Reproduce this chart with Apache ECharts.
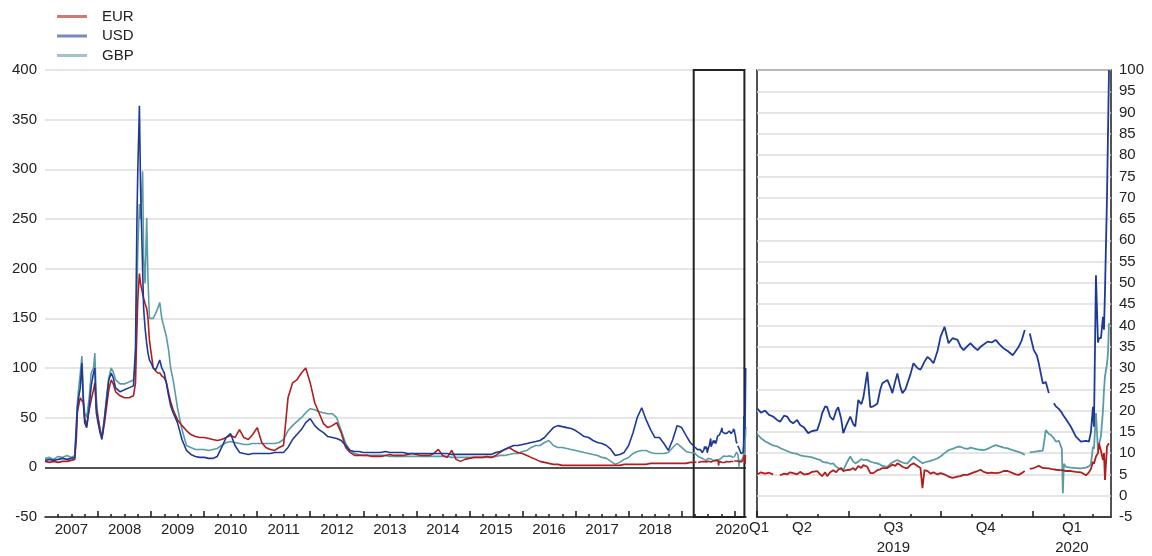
<!DOCTYPE html>
<html>
<head>
<meta charset="utf-8">
<script src="https://cdn.jsdelivr.net/npm/echarts@6/dist/echarts.min.js"></script>
<style>
    html, body { margin: 0; padding: 0; background: #fff; }
    #chart { width: 1152px; height: 556px; }
</style>
</head>
<body>
<div id="chart"></div>
<script>
var seriesNames = ['EUR', 'USD', 'GBP'];
var seriesColors = {EUR: '#b01e1e', USD: '#1f3a96', GBP: '#5a9ca5'};

// 2007 - 2009, denser where the spreads move fast
var crisisDates = [
    '2007-01-01', '2007-02-01', '2007-03-01', '2007-04-01', '2007-05-01', '2007-06-01', '2007-07-01',
    '2007-07-25', '2007-08-05', '2007-08-12', '2007-08-20', '2007-09-01', '2007-09-12', '2007-09-22',
    '2007-10-01', '2007-10-15', '2007-11-01', '2007-11-15', '2007-12-01', '2007-12-10', '2007-12-20',
    '2008-01-01', '2008-01-15', '2008-01-28', '2008-02-15', '2008-03-01', '2008-03-15', '2008-04-01',
    '2008-04-15', '2008-05-01', '2008-06-01', '2008-07-01', '2008-08-01', '2008-09-01', '2008-09-15',
    '2008-09-25', '2008-10-01', '2008-10-12', '2008-10-20', '2008-11-03', '2008-11-10', '2008-11-20',
    '2008-12-01', '2008-12-10', '2008-12-20',
    '2009-01-01', '2009-01-15', '2009-02-01', '2009-02-15', '2009-03-01', '2009-03-15', '2009-04-01',
    '2009-04-15', '2009-05-01', '2009-05-15', '2009-06-01', '2009-07-01', '2009-08-01', '2009-09-01',
    '2009-10-01', '2009-11-01', '2009-12-01'
];
var crisisEur = [
    6, 5, 6, 5, 6, 6, 7,
    8, 30, 55, 62, 70, 72, 65,
    50, 42, 58, 68, 78, 85, 60,
    50, 38, 30, 45, 62, 78, 88,
    84, 76, 72, 70, 70, 72, 85,
    140, 170, 195, 185, 175, 170, 165,
    160, 150, 128,
    115, 100, 97, 95, 95, 92, 90,
    86, 75, 66, 58, 48, 42, 37,
    33, 31, 30
];
var crisisUsd = [
    7, 8, 7, 8, 9, 8, 9,
    10, 40, 60, 70, 80, 105, 65,
    45, 40, 60, 82, 95, 100, 55,
    45, 35, 28, 50, 70, 88, 95,
    90, 80, 76, 78, 80, 82, 120,
    250, 300, 364, 280, 200, 160, 140,
    125, 115, 108,
    105, 100, 98, 103, 108, 100, 95,
    85, 72, 62, 55, 45, 28, 17,
    13, 11, 10
];
var crisisGbp = [
    9, 10, 8, 11, 10, 12, 10,
    12, 45, 65, 78, 95, 112, 72,
    55, 50, 70, 95, 100, 115, 70,
    50, 38, 30, 50, 72, 90, 100,
    96, 88, 84, 84, 86, 88, 105,
    180, 220, 265, 250, 298, 210, 185,
    251, 190, 150,
    148, 150, 155, 160, 166, 150, 140,
    132, 118, 100, 88, 60, 38, 22,
    20, 18, 18
];

// month starts, 2010-01 .. 2019-03
var monthlyEur = [
    30, 29, 28, 27, 28, 30, 32, 30, 38, 30, 28, 33,
    40, 25, 20, 18, 17, 20, 22, 70, 85, 88, 95, 100,
    85, 65, 55, 44, 40, 42, 45, 35, 20, 15, 12, 12,
    12, 12, 11, 11, 11, 12, 13, 12, 12, 12, 13, 14,
    13, 12, 12, 12, 14, 18, 12, 10, 17, 8, 6, 8,
    9, 10, 10, 10, 11, 10, 12, 15, 18, 20, 17, 15,
    14, 12, 10, 8, 6, 5, 4, 3, 3, 2, 2, 2,
    2, 2, 2, 2, 2, 2, 2, 2, 2, 2, 2, 3,
    3, 3, 3, 3, 3, 4, 4, 4, 4, 4, 4, 4,
    4, 4, 5
];
var monthlyUsd = [
    10, 9, 9, 11, 20, 30, 34, 22, 15, 14, 13, 14,
    14, 14, 14, 14, 15, 15, 15, 20, 28, 33, 38, 45,
    49, 42, 38, 35, 31, 30, 29, 27, 22, 17, 16, 16,
    15, 15, 15, 15, 15, 16, 15, 15, 15, 15, 14, 14,
    14, 14, 14, 14, 14, 14, 14, 14, 13, 13, 13, 13,
    13, 13, 13, 13, 13, 13, 15, 16, 18, 20, 22, 22,
    23, 24, 25, 26, 27, 30, 35, 40, 42, 41, 40, 39,
    37, 34, 31, 30, 27, 25, 24, 22, 18, 12, 13, 15,
    22, 35, 50, 60, 48, 38, 30, 30, 24, 17, 28, 42,
    40, 32, 25
];
var monthlyGbp = [
    18, 17, 18, 19, 22, 25, 26, 25, 24, 23, 23, 24,
    24, 24, 24, 24, 24, 25, 28, 37, 42, 46, 50, 55,
    59, 58, 56, 55, 54, 54, 50, 37, 24, 17, 14, 13,
    12, 12, 12, 12, 12, 12, 11, 11, 11, 11, 11, 11,
    11, 11, 11, 11, 11, 11, 11, 11, 10, 10, 10, 10,
    10, 10, 10, 10, 10, 10, 11, 12, 12, 13, 14, 14,
    16, 17, 20, 22, 22, 25, 27, 22, 20, 20, 19, 18,
    17, 16, 15, 14, 13, 12, 10, 9, 6, 3, 5, 8,
    10, 14, 16, 17, 17, 15, 14, 14, 14, 15, 20, 24,
    20, 16, 15
];

// 2019-04 .. 2020-03: right panel, also the tail of the left panel
var recentDates = [
    '2019-04-01', '2019-04-05', '2019-04-09', '2019-04-13', '2019-04-17', '2019-04-21', '2019-04-24', '2019-04-28',
    '2019-05-01', '2019-05-04', '2019-05-07', '2019-05-11', '2019-05-14', '2019-05-18', '2019-05-22', '2019-05-26', '2019-05-31',
    '2019-06-03', '2019-06-05', '2019-06-08', '2019-06-10', '2019-06-13', '2019-06-16', '2019-06-19', '2019-06-21', '2019-06-24', '2019-06-26', '2019-06-29',
    '2019-07-03', '2019-07-06', '2019-07-08', '2019-07-11', '2019-07-14', '2019-07-16', '2019-07-20', '2019-07-23', '2019-07-26', '2019-07-30',
    '2019-08-02', '2019-08-04', '2019-08-09', '2019-08-12', '2019-08-14', '2019-08-17', '2019-08-19', '2019-08-22', '2019-08-24', '2019-08-27', '2019-08-29',
    '2019-09-01', '2019-09-04', '2019-09-08', '2019-09-11', '2019-09-13', '2019-09-15', '2019-09-18', '2019-09-21', '2019-09-24', '2019-09-28',
    '2019-10-01', '2019-10-05', '2019-10-09', '2019-10-13', '2019-10-18', '2019-10-21', '2019-10-24', '2019-10-28', '2019-10-31',
    '2019-11-03', '2019-11-07', '2019-11-10', '2019-11-13', '2019-11-17', '2019-11-21', '2019-11-25', '2019-11-29',
    '2019-12-03', '2019-12-07', '2019-12-12', '2019-12-15', '2019-12-18', '2019-12-21', '2019-12-24', '2019-12-26', '2019-12-29',
    '2020-01-02', '2020-01-05', '2020-01-07', '2020-01-11', '2020-01-14', '2020-01-17', '2020-01-19', '2020-01-22', '2020-01-24',
    '2020-01-27', '2020-01-30', '2020-01-31',
    '2020-02-01', '2020-02-03', '2020-02-08', '2020-02-13', '2020-02-18', '2020-02-23', '2020-02-26', '2020-02-28',
    '2020-03-01', '2020-03-02', '2020-03-04', '2020-03-06', '2020-03-07', '2020-03-09', '2020-03-11', '2020-03-12',
    '2020-03-13', '2020-03-15', '2020-03-16', '2020-03-17'
];
var recentUsd = [
    20.5, 19.5, 20.0, 19.0, 18.6, 17.8, 17.4, 18.8,
    18.6, 17.5, 17.0, 17.8, 16.6, 16.0, 14.7, 15.2, 15.4,
    17.5, 19.4, 21.0, 20.8, 18.5, 17.8, 20.0, 20.8, 18.0, 14.7, 16.5,
    18.6, 16.8, 16.3, 22.5, 21.5, 23.0, 29.1, 20.8, 21.0, 21.6,
    25.0, 26.4, 27.2, 25.5, 24.1, 27.0, 28.7, 25.5, 24.1, 25.0, 26.4,
    28.5, 31.1, 30.0, 29.6, 30.5, 31.5, 32.6, 32.0, 31.1, 34.0,
    37.3, 39.7, 35.8, 37.0, 36.6, 35.0, 34.2, 35.2, 35.8,
    35.0, 34.2, 35.0, 35.5, 36.2, 36.0, 36.6, 35.5,
    34.6, 34.0, 33.0, 34.0, 35.0, 36.5, 38.9, null, 38.1,
    34.2, 33.0, 31.1, 26.4, 26.7, 24.1, null, 21.7, 21.0,
    20.4, 19.5, 19.0,
    18.6, 18.0, 16.2, 13.9, 12.7, 12.9, 12.7, 15.0,
    20.9, 16.2, 51.8, 36.0, 37.0, 37.0, 42.0, 39.0,
    48.0, 70.0, 85.0, 100.0
];
var recentGbp = [
    14.5, 13.5, 12.8, 12.3, 11.8, 11.6, 11.2, 10.8,
    10.5, 10.2, 10.0, 9.8, 9.5, 9.3, 9.2, 9.0, 8.6,
    8.4, 8.0, 7.8, 7.8, 7.5, 7.6, 6.8, 6.5, 6.2, 6.0, 7.5,
    9.2, 8.0, 7.6, 8.0, 8.6, 8.4, 8.4, 8.0, 7.8, 7.6,
    7.3, 7.0, 6.8, 7.5, 7.8, 8.2, 8.4, 8.0, 7.8, 7.6, 7.6,
    8.4, 9.2, 8.5, 8.0, 7.6, 7.8, 8.0, 8.2, 8.4, 8.8,
    9.2, 10.0, 10.7, 11.0, 11.5, 11.5, 11.2, 11.0, 11.3,
    11.1, 10.9, 10.8, 10.7, 11.0, 11.5, 11.9, 11.6,
    11.3, 11.1, 10.7, 10.5, 10.3, 10.0, 9.6, null, 10.2,
    10.3, 10.4, 10.5, 10.6, 15.4, 14.5, 14.3, 13.5, 12.7,
    12.9, 11.0, 0.6,
    7.5, 6.8, 6.6, 6.5, 6.4, 6.6, 6.9, 7.4,
    11.5, 11.0, 19.4, 10.7, 12.0, 14.0, 20.0, 24.8,
    28.0, 31.0, 33.5, 40.5
];
var recentEur = [
    5.0, 5.5, 5.2, 5.4, 5.0, null, 4.8, 5.2,
    5.0, 5.5, 5.3, 5.0, 5.6, 5.0, 5.1, 5.6, 5.8,
    5.0, 4.6, 5.5, 4.6, 5.5, 6.0, 5.5, 6.1, 6.5, 5.8, 6.0,
    6.1, 6.5, 6.0, 7.0, 6.5, 7.2, 6.8, 5.3, 5.3, 6.0,
    6.2, 6.5, 6.5, 7.0, 7.3, 7.0, 7.6, 7.2, 6.8, 6.5, 6.5,
    7.2, 7.6, 7.0, 6.5, 1.8, 6.0, 5.8, 5.2, 5.5, 5.0,
    5.3, 5.0, 4.5, 4.2, 4.5, 4.6, 4.9, 4.9, 5.2,
    5.5, 5.8, 6.1, 5.6, 5.3, 5.4, 5.3, 5.4,
    5.8, 5.8, 5.3, 5.0, 4.9, 5.3, 5.8, null, 6.3,
    6.5, 6.8, 7.0, 6.5, 6.5, 6.4, 6.3, 6.2, 6.1,
    6.0, 6.0, 6.0,
    5.9, 5.8, 5.8, 5.6, 5.5, 4.8, 5.5, 6.3,
    8.0, 7.5, 9.2, 10.0, 12.3, 10.5, 8.4, 10.0,
    3.7, 11.5, 12.0, 12.3
];

// axis labels
var yearLabels = ['2007', '2008', '2009', '2010', '2011', '2012', '2013', '2014', '2015', '2016', '2017', '2018', '2020'];
var yearLabelDates = ['2007-07-02', '2008-07-02', '2009-07-02', '2010-07-02', '2011-07-02', '2012-07-02',
    '2013-07-02', '2014-07-02', '2015-07-02', '2016-07-02', '2017-07-02', '2018-07-02', '2019-12-14'];
var quarterLabels = ['Q1', 'Q2', 'Q3\n2019', 'Q4', 'Q1\n2020'];
var quarterLabelDates = ['2019-04-03', '2019-05-16', '2019-08-15', '2019-11-15', '2020-02-09'];
var quarterStarts = ['2019-04-01', '2019-07-01', '2019-10-01', '2020-01-01'];

var leftStart = '2007-01-01';
var rightStart = '2019-04-01';
var seriesEnd = '2020-03-19';

var $ = {
    extend: function (a, b) {
        for (var key in b) {
            a[key] = b[key];
        }
        return a;
    }
};

function toTime(s) {
    var p = s.split('-');
    return Date.UTC(+p[0], +p[1] - 1, +p[2]);
}

function pad(n) {
    return (n < 10 ? '0' : '') + n;
}

function pairs(dates, values) {
    var out = [];
    for (var i = 0; i < dates.length; i++) {
        out.push([toTime(dates[i]), values[i] == null ? '-' : values[i]]);
    }
    return out;
}

function labelFormatter(dates, texts) {
    var times = dates.map(toTime);
    return function (value) {
        for (var i = 0; i < times.length; i++) {
            if (Math.abs(times[i] - value) < 2 * 86400000) {
                return texts[i];
            }
        }
        return '';
    };
}

// month starts 2010-01 .. 2019-03
var monthlyDates = [];
for (var y = 2010; y <= 2019; y++) {
    for (var m = 1; m <= 12; m++) {
        if (y === 2019 && m > 3) {
            break;
        }
        monthlyDates.push(y + '-' + pad(m) + '-01');
    }
}

// tick positions
var yearTicks = [], quarterTicks = [];
for (var yy = 2008; yy <= 2020; yy++) {
    yearTicks.push(toTime(yy + '-01-01'));
}
for (var yq = 2007; yq <= 2019; yq++) {
    for (var q = 4; q <= 10; q += 3) {
        quarterTicks.push(toTime(yq + '-' + pad(q) + '-01'));
    }
}
var rightMonths = ['2019-05-01', '2019-06-01', '2019-08-01', '2019-09-01', '2019-11-01', '2019-12-01',
    '2020-02-01', '2020-03-01'];
var monthTicks = rightMonths.map(toTime);

var byName = {
    EUR: {crisis: crisisEur, monthly: monthlyEur, recent: recentEur},
    USD: {crisis: crisisUsd, monthly: monthlyUsd, recent: recentUsd},
    GBP: {crisis: crisisGbp, monthly: monthlyGbp, recent: recentGbp}
};

var labelStyle = {color: '#222', fontSize: 15, fontFamily: 'Liberation Sans'};
var gridLine = {lineStyle: {color: '#dcdcdc', width: 1.5}};
var axisBlack = {color: '#1a1a1a', width: 1.5};

// x axes are plain value axes in milliseconds, so ticks and labels can sit anywhere
function timeAxis(grid, min, ticks, tickLen, labels) {
    return {
        type: 'value',
        gridIndex: grid,
        position: 'bottom',
        min: toTime(min),
        max: toTime(seriesEnd),
        axisLine: {show: !!labels, onZero: false, lineStyle: axisBlack},
        axisTick: {show: true, inside: true, length: tickLen, lineStyle: axisBlack, customValues: ticks},
        axisLabel: labels ? labels : {show: false},
        splitLine: {show: false}
    };
}

var leftLabels = $.extend({
    customValues: yearLabelDates.map(toTime),
    formatter: labelFormatter(yearLabelDates, yearLabels),
    margin: 5,
    hideOverlap: false
}, labelStyle);

var rightLabels = $.extend({
    customValues: quarterLabelDates.map(toTime),
    formatter: labelFormatter(quarterLabelDates, quarterLabels),
    margin: 1,
    lineHeight: 20,
    verticalAlign: 'top',
    hideOverlap: false
}, labelStyle);

var series = [];
var drawOrder = ['GBP', 'EUR', 'USD'];

for (var s = 0; s < drawOrder.length; s++) {
    var name = drawOrder[s];
    var d = byName[name];
    var leftData = pairs(crisisDates, d.crisis)
        .concat(pairs(monthlyDates, d.monthly))
        .concat(pairs(recentDates, d.recent));

    var leftSeries = {
        name: name,
        type: 'line',
        xAxisIndex: 0,
        yAxisIndex: 0,
        data: leftData,
        symbol: 'none',
        color: seriesColors[name],
        lineStyle: {width: 1.6},
        connectNulls: false
    };

    if (s === 0) {
        leftSeries.markLine = {
            silent: true,
            symbol: 'none',
            label: {show: false},
            lineStyle: {color: '#222', width: 1.5, type: 'solid'},
            data: [{yAxis: 0}]
        };
        leftSeries.markArea = {
            silent: true,
            itemStyle: {color: 'rgba(0,0,0,0)', borderColor: '#222', borderWidth: 2},
            data: [[{xAxis: toTime('2019-03-25'), yAxis: 400}, {xAxis: toTime('2020-03-08'), yAxis: -50}]]
        };
    }
    series.push(leftSeries);

    series.push({
        name: name,
        type: 'line',
        xAxisIndex: 2,
        yAxisIndex: 1,
        data: pairs(recentDates, d.recent),
        symbol: 'none',
        color: seriesColors[name],
        lineStyle: {width: 1.8},
        connectNulls: false
    });
}

var myChart = echarts.init(document.getElementById('chart'));

var option = {
    animation: false,
    textStyle: {fontFamily: 'Liberation Sans'},
    legend: {
        data: seriesNames,
        orient: 'vertical',
        left: 57,
        top: 9,
        padding: 0,
        icon: 'rect',
        itemWidth: 30,
        itemHeight: 3,
        itemGap: 4.5,
        itemStyle: {opacity: 0.6},
        textStyle: {color: '#222', fontSize: 15, padding: [0, 0, 0, 10]}
    },
    grid: [
        {left: 45, right: 406, top: 70, bottom: 39, containLabel: false, outerBoundsMode: 'none'},
        {left: 757, right: 41, top: 70, bottom: 39, containLabel: false, outerBoundsMode: 'none',
            show: true, borderColor: '#1a1a1a', borderWidth: 1.5, backgroundColor: 'transparent'}
    ],
    xAxis: [
        timeAxis(0, leftStart, yearTicks, 6, leftLabels),
        timeAxis(0, leftStart, quarterTicks, 3, null),
        timeAxis(1, rightStart, quarterStarts.map(toTime), 6, rightLabels),
        timeAxis(1, rightStart, monthTicks, 3, null)
    ],
    yAxis: [
        {
            type: 'value', gridIndex: 0, min: -50, max: 400, interval: 50,
            axisLine: {show: false}, axisTick: {show: false},
            axisLabel: $.extend({margin: 8}, labelStyle),
            splitLine: gridLine
        },
        {
            type: 'value', gridIndex: 1, position: 'right', min: -5, max: 100, interval: 5,
            axisLine: {show: false}, axisTick: {show: false},
            axisLabel: $.extend({margin: 8}, labelStyle),
            splitLine: gridLine
        }
    ],
    series: series
};

myChart.setOption(option);
</script>
</body>
</html>
